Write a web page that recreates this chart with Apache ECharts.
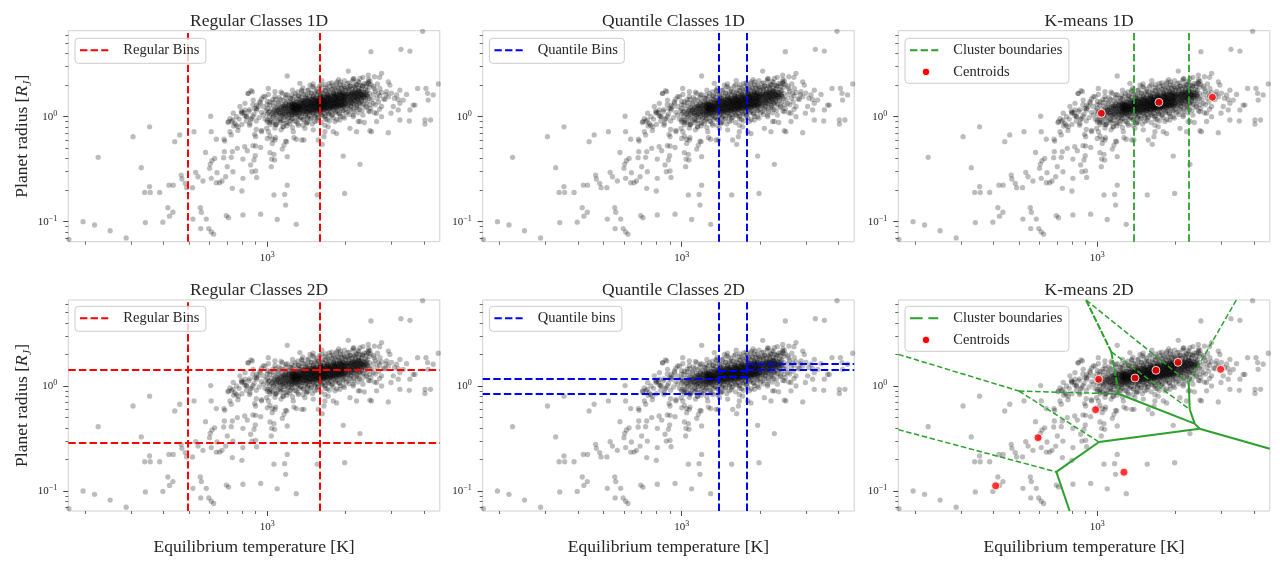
<!DOCTYPE html>
<html><head><meta charset="utf-8">
<script src="https://cdn.jsdelivr.net/npm/echarts@6/dist/echarts.min.js"></script>
<style>html,body{margin:0;padding:0;background:#fff}#c{width:1280px;height:572px}</style>
</head><body><div id="c"></div>
<script>
// ---------------- data ----------------
const xMinT = 172, xMaxT = 4600, yMinR = 0.0645, yMaxR = 6.59;
const majorTicksT = [1000];
const minorTicksT = [200,300,400,500,600,700,800,900,2000,3000,4000];
const majorTicksR = [0.1, 1];
const minorTicksR = [0.07,0.08,0.09,0.2,0.3,0.4,0.5,0.6,0.7,0.8,0.9,2,3,4,5,6];

const panelTitles = ['Regular Classes 1D','Quantile Classes 1D','K-means 1D','Regular Classes 2D','Quantile Classes 2D','K-means 2D'];

// sparse planets [Teq K, radius RJ]
const sparsePlanets = [
[196,0.10],[217,0.093],[224,0.41],[249,0.082],[287,0.070],[173,0.068],[305,0.645],[328,0.327],[338,0.19],[340,0.098],[353,0.80],[353,0.216],[355,0.19],[386,0.19],[397,0.099],[415,0.136],[419,0.223],[421,0.113],[434,0.123],[435,0.223],[441,0.578],[461,0.67],[467,0.278],[470,0.255],[484,0.232],[490,0.211],[516,0.211],[518,0.106],[523,0.72],[531,0.295],[542,0.268],[553,0.136],[558,0.123],[555,0.086],[566,0.244],[579,0.457],[583,0.106],[596,0.086],[600,0.322],[604,0.354],[606,1.01],[609,0.080],[609,0.72],[609,0.259],[613,0.381],[622,0.076],[628,0.40],[637,0.61],[637,0.235],[641,0.293],[656,0.235],[670,0.244],[680,0.407],[682,0.61],[684,0.464],[686,0.586],[692,0.268],[696,0.114],[702,0.334],[710,0.109],[710,0.90],[727,0.41],[727,0.67],[734,0.464],[734,0.208],[738,0.299],[738,0.93],[743,0.815],[760,0.83],[767,0.50],[771,0.74],[795,1.13],[799,0.196],[806,0.395],[806,0.259],[806,0.116],[814,1.09],[819,0.518],[838,0.474],[843,1.66],[855,1.17],[831,1.01],[831,0.91],[863,0.94],[863,0.347],[873,0.299],[876,1.73],[881,1.01],[881,0.53],[894,1.19],[855,0.83],[799,0.845],[907,0.91],[907,0.757],[894,0.68],[899,0.425],[902,0.645],[902,0.526],[943,0.51],[889,0.387],[902,0.304],[910,0.264],[1000,0.62],[1024,0.655],[1045,0.61],[1076,0.63],[1045,0.557],[1024,0.454],[1061,0.438],[1039,0.395],[1036,0.334],[1067,0.387],[1142,0.492],[1159,0.537],[1176,0.586],[1193,0.416],[1266,0.63],[1292,0.61],[1356,0.60],[1383,0.60],[1193,0.223],[1166,0.182],[1061,0.18],[1176,0.144],[943,0.118],[1092,0.105],[1292,0.0944],[1371,0.0636],[1556,0.18],[1626,0.545],[1651,0.645],[1958,0.422],[2270,0.352],[1982,0.186],
[1193,2.44],[2047,2.72],[2501,4.16],[3262,4.38],[3532,4.22],[3952,6.5],[866,1.77],
[2270,2.32],[2444,2.15],[2917,2.15],[2959,2.0],[3232,1.79],[3428,1.63],[3780,1.86],[4070,1.86],[4130,1.67],[4150,1.44],[4338,1.61],[4540,2.05],[3636,1.29],[3690,1.29],[3232,1.34],[3047,1.25],[3185,1.16],[2987,1.08],[2749,1.0],[2513,0.72],[2917,0.705],[2270,0.90],[2630,0.90],[3232,0.93],[3512,0.91],[4034,0.93],[4238,0.93],[4034,0.85],[3185,1.46],[2749,1.25],[2832,1.46],[2670,1.67],[2630,1.08],[1820,0.90],[1665,0.83],[1958,1.0],[2236,0.90],[2359,0.88],[2479,1.12],[2138,1.04],[1901,0.93],[2554,1.34],[2873,1.73],[3330,1.44],[3532,1.16],[3140,1.61],[2709,1.86],[2749,2.59],[2444,2.49],[2479,0.735],
[730,0.90],[706,0.88],[762,1.0],[797,1.08],[833,1.0],[845,1.67],[937,1.39],[924,1.25],[1009,1.86],[1070,1.73],[994,0.774],[951,0.72],[1070,0.60],[1187,0.578],[1259,0.72],[1395,0.774],[1524,0.90],[1665,0.72],[1570,0.60],[774,0.80],[858,0.86],[719,0.72],[740,1.08],[785,1.25],[821,1.34],[883,1.44],[965,1.55],[910,1.16],[965,1.04],[1024,0.93],[1086,0.86],[1152,0.80],[1222,0.86],[1316,0.83],[1416,0.86],[1502,0.75],[1714,0.80],[1793,0.72],[1846,0.69],[2078,0.774],[2203,0.72],
[1334,2.08],[1459,2.0],[1356,1.79],[1240,1.61],[1142,1.67],[980,1.55],[910,1.29],[821,1.16],[719,0.96],[751,0.86]
];

// dense hot-Jupiter core [Teq K, radius RJ]
const corePlanets = [
[1250,1.05],[1250,1.15],[1250,1.23],[1250,1.34],[1265,1.09],[1265,1.19],[1265,1.28],[1265,1.39],[1280,1.04],[1280,1.13],[1280,1.22],[1280,1.31],
[1295,1.09],[1295,1.17],[1295,1.27],[1295,1.38],[1310,1.14],[1310,1.23],[1310,1.32],[1310,1.03],[1325,1.09],[1325,1.17],[1325,1.25],[1325,1.45],
[1340,1.09],[1340,1.19],[1340,1.27],[1340,1.38],[1355,1.13],[1355,1.23],[1355,1.33],[1355,1.44],[1370,1.08],[1370,1.18],[1370,1.26],[1370,1.36],
[1385,1.13],[1385,1.22],[1385,1.32],[1385,1.43],[1400,1.17],[1400,1.26],[1400,1.36],[1400,1.06],[1415,1.13],[1415,1.20],[1415,1.29],[1415,1.49],
[1430,1.12],[1430,1.22],[1430,1.31],[1430,1.42],[1445,1.16],[1445,1.26],[1445,1.36],[1445,1.48],[1460,1.10],[1460,1.20],[1460,1.29],[1460,1.40],
[1475,1.16],[1475,1.25],[1475,1.35],[1475,1.47],[1490,1.20],[1490,1.30],[1490,1.40],[1490,1.09],[1505,1.16],[1505,1.24],[1505,1.33],[1505,1.53],
[1520,1.15],[1520,1.25],[1520,1.34],[1520,1.46],[1535,1.19],[1535,1.30],[1535,1.40],[1535,1.52],[1550,1.13],[1550,1.24],[1550,1.33],[1550,1.43],
[1565,1.19],[1565,1.28],[1565,1.39],[1565,1.50],[1580,1.23],[1580,1.33],[1580,1.43],[1580,1.11],[1595,1.18],[1595,1.26],[1595,1.36],[1595,1.57],
[1610,1.17],[1610,1.28],[1610,1.38],[1610,1.50],[1625,1.22],[1625,1.33],[1625,1.43],[1625,1.55],[1640,1.16],[1640,1.26],[1640,1.36],[1640,1.47],
[1655,1.22],[1655,1.31],[1655,1.42],[1655,1.54],[1670,1.26],[1670,1.36],[1670,1.47],[1670,1.14],[1685,1.21],[1685,1.30],[1685,1.39],[1685,1.61],
[1700,1.21],[1700,1.32],[1700,1.41],[1700,1.53],[1718,1.25],[1718,1.36],[1718,1.47],[1718,1.60],[1736,1.19],[1736,1.30],[1736,1.39],[1736,1.50],
[1754,1.25],[1754,1.35],[1754,1.46],[1754,1.58],[1772,1.30],[1772,1.40],[1772,1.51],[1772,1.18],[1790,1.25],[1790,1.33],[1790,1.43],[1790,1.66],
[1808,1.24],[1808,1.35],[1808,1.45],[1808,1.58],[1826,1.29],[1826,1.40],[1826,1.51],[1826,1.64],[1844,1.22],[1844,1.33],[1844,1.43],[1844,1.55],
[1862,1.29],[1862,1.39],[1862,1.50],[1862,1.63],[1880,1.33],[1880,1.44],[1880,1.55],[1880,1.21],[1900,1.28],[1900,1.37],[1900,1.47],[1900,1.70],
[1920,1.28],[1920,1.39],[1920,1.49],[1920,1.62],[1940,1.32],[1940,1.44],[1940,1.56],[1940,1.69],[1960,1.26],[1960,1.38],[1960,1.48],[1960,1.60],
[1980,1.32],[1980,1.43],[1980,1.54],[1980,1.68],[2000,1.38],[2000,1.48],[2000,1.60],[2000,1.24],
[1258,1.16],[1258,1.24],[1288,1.19],[1288,1.28],[1318,1.17],[1318,1.25],[1348,1.20],[1348,1.29],[1378,1.23],[1378,1.33],[1408,1.20],[1408,1.29],
[1438,1.23],[1438,1.32],[1468,1.27],[1468,1.36],[1498,1.23],[1498,1.32],[1528,1.27],[1528,1.36],[1558,1.30],[1558,1.40],[1588,1.26],[1588,1.35],
[1618,1.30],[1618,1.39],[1648,1.33],[1648,1.43],[1678,1.29],[1678,1.39],[1708,1.33],[1708,1.43],[1745,1.37],[1745,1.47],[1781,1.33],[1781,1.43],
[1817,1.37],[1817,1.47],[1853,1.41],[1853,1.51],[1890,1.37],[1890,1.47],[1930,1.41],[1930,1.51],[1970,1.45],[1970,1.55],
[1000,0.93],[1000,1.06],[1000,1.19],[1020,1.00],[1020,1.12],[1020,1.29],[1040,0.91],[1040,1.05],[1040,1.18],[1060,0.99],[1060,1.12],[1060,1.27],
[1080,0.96],[1080,1.10],[1080,1.23],[1100,1.04],[1100,1.16],[1100,1.33],[1120,0.95],[1120,1.08],[1120,1.22],[1140,1.02],[1140,1.16],[1140,1.31],
[1160,0.99],[1160,1.13],[1160,1.27],[1180,1.07],[1180,1.20],[1180,1.37],[1200,0.97],[1200,1.11],[1200,1.25],[1220,1.05],[1220,1.19],[1220,1.35],
[1240,1.02],[1240,1.17],[1240,1.31],[1010,1.10],[1050,1.08],[1090,1.15],[1130,1.12],[1170,1.19],[1210,1.16],[1245,1.22],
[2030,1.28],[2030,1.46],[2030,1.64],[2060,1.38],[2060,1.55],[2060,1.77],[2090,1.25],[2090,1.43],[2090,1.62],[2120,1.35],[2120,1.54],[2120,1.73],
[2150,1.32],[2150,1.50],[2150,1.68],[2180,1.42],[2180,1.59],[2180,1.82],[2210,1.28],[2210,1.47],[2210,1.65],[2240,1.38],[2240,1.57],[2240,1.77],
[2270,1.35],[2270,1.53],[2270,1.72],[2300,1.44],[2300,1.62],[2300,1.85],[2340,1.32],[2340,1.51],[2340,1.70],[2380,1.42],[2380,1.61],[2380,1.82],
[2420,1.38],[2420,1.57],[2420,1.77],[2470,1.49],[2470,1.67],[2470,1.91],[2045,1.52],[2105,1.48],[2165,1.56],[2225,1.53],[2285,1.60],[2360,1.58],
[1050,1.45],[1110,1.52],[1180,1.60],[1230,1.50],[1280,1.66],[1320,1.58],[1360,1.74],[1400,1.62],[1440,1.80],[1480,1.68],[1510,1.88],[1550,1.72],
[1590,1.95],[1630,1.78],[1670,2.02],[1700,1.85],[1740,1.95],[1770,2.10],[1800,1.88],[1840,2.05],[1870,1.92],[1910,2.15],[1950,2.0],[1990,1.86],
[2030,2.08],[2080,1.95],[2130,2.2],[2190,2.02],[2250,2.12],[2320,1.98],[2400,2.05],[2480,2.18],[2560,1.95],[2650,2.05],[1620,2.2],[1880,2.25],[2150,2.3],[1500,2.05],
[1020,0.88],[1080,0.84],[1130,0.92],[1190,0.87],[1240,0.95],[1290,0.90],[1340,0.98],[1380,0.93],[1430,1.0],[1470,0.95],[1520,1.03],[1560,0.97],
[1610,1.05],[1660,1.0],[1720,1.08],[1770,1.02],[1830,1.12],[1890,1.06],[1950,1.15],[2010,1.09],[2080,1.18],[2150,1.12],[2230,1.22],[2310,1.15],
[2400,1.25],[2500,1.2],[2600,1.3],[1150,0.80],[1420,0.88],[1700,0.94],
[2520,1.45],[2560,1.62],[2600,1.75],[2640,1.5],[2700,1.58],[2750,1.7],[2800,1.48],[2860,1.62],[2920,1.55],[3000,1.68],[3080,1.5],[2680,1.38],[2580,1.85],
[820,1.02],[850,1.12],[870,0.96],[890,1.06],[910,1.2],[930,0.98],[950,1.1],[965,1.25],[980,0.95],[990,1.15],[880,1.3],[940,1.35],[1000,1.4],[780,0.95],[800,1.1]
];

// outer layers of the core (upper flank, lower flank, inner flank, outskirts, wings)
const coreHaloPlanets = [
[1000,1.30],[1025,1.38],[1050,1.36],[1075,1.46],[1100,1.37],[1125,1.46],[1150,1.43],[1175,1.52],[1200,1.40],[1225,1.50],[1250,1.47],[1275,1.57],
[1300,1.48],[1325,1.57],[1350,1.54],[1375,1.64],[1400,1.51],[1425,1.61],[1450,1.57],[1475,1.68],[1500,1.57],[1525,1.68],[1550,1.63],[1575,1.73],
[1600,1.60],[1625,1.70],[1650,1.66],[1675,1.77],[1700,1.66],[1725,1.77],[1750,1.72],[1775,1.83],[1800,1.69],[1825,1.80],[1850,1.75],[1875,1.87],
[1900,1.74],[1925,1.86],[1950,1.81],[1975,1.93],[2000,1.78],[2030,1.89],[2060,1.85],[2090,1.96],[2120,1.84],[2150,1.96],[2180,1.91],[2210,2.02],
[2240,1.87],[2280,1.99],[2320,1.94],[2360,2.07],[2400,1.94],[2450,2.07],[2500,2.02],
[1000,0.89],[1025,0.84],[1050,0.88],[1075,0.84],[1100,0.93],[1125,0.88],[1150,0.92],[1175,0.87],[1200,0.96],[1225,0.91],[1250,0.96],[1275,0.91],
[1300,1.00],[1325,0.95],[1350,0.99],[1375,0.94],[1400,1.03],[1425,0.98],[1450,1.02],[1475,0.97],[1500,1.07],[1525,1.01],[1550,1.05],[1575,0.99],
[1600,1.09],[1625,1.03],[1650,1.08],[1675,1.02],[1700,1.12],[1725,1.06],[1750,1.11],[1775,1.05],[1800,1.16],[1830,1.09],[1860,1.14],[1890,1.08],
[1920,1.19],[1960,1.13],[2000,1.18],[2050,1.12],[2100,1.24],[2150,1.18],[2200,1.23],[2260,1.17],[2320,1.29],[2400,1.23],[2480,1.30],
[1150,1.27],[1150,1.04],[1180,1.32],[1180,1.01],[1210,1.29],[1210,1.06],[1240,1.34],[1240,1.04],[1270,1.33],[1270,1.08],[1300,1.38],[1300,1.06],
[1330,1.35],[1330,1.11],[1360,1.41],[1360,1.08],[1390,1.38],[1390,1.13],[1420,1.43],[1420,1.10],[1450,1.41],[1450,1.15],[1480,1.46],[1480,1.12],
[1510,1.43],[1510,1.17],[1540,1.48],[1540,1.14],[1570,1.45],[1570,1.19],[1600,1.50],[1600,1.16],[1630,1.47],[1630,1.21],[1660,1.53],[1660,1.18],
[1690,1.50],[1690,1.23],[1720,1.56],[1720,1.20],[1750,1.53],[1750,1.25],[1780,1.58],[1780,1.22],[1810,1.55],[1810,1.27],[1840,1.60],[1840,1.24],
[1870,1.57],[1870,1.29],[1900,1.63],[1900,1.25],[1930,1.60],[1930,1.31],[1960,1.66],[1960,1.27],[2000,1.63],[2000,1.33],[2050,1.69],[2050,1.30],
[2100,1.66],[2100,1.36],[2150,1.73],[2150,1.33],[2200,1.69],[2200,1.39],[2250,1.76],[2250,1.35],[2300,1.73],[2300,1.41],
[950,1.48],[950,0.74],[1010,1.63],[1010,0.72],[1070,1.56],[1070,0.78],[1130,1.71],[1130,0.75],[1190,1.63],[1190,0.82],[1250,1.79],[1250,0.79],
[1310,1.72],[1310,0.86],[1370,1.88],[1370,0.83],[1430,1.78],[1430,0.89],[1490,1.94],[1490,0.85],[1550,1.84],[1550,0.92],[1610,2.0],[1610,0.88],
[1670,1.9],[1670,0.95],[1730,2.07],[1730,0.91],[1790,1.97],[1790,0.98],[1850,2.14],[1850,0.94],[1910,2.02],[1910,1.01],[1980,2.2],[1980,0.97],
[2060,2.1],[2060,1.05],[2140,2.29],[2140,1.0],[2230,2.17],[2230,1.09],[2330,2.37],[2330,1.04],[2450,2.26],[2450,1.13],[2580,2.4],[2580,1.09],[2700,2.37],[2700,1.18],
[1055,1.02],[1065,1.15],[1085,1.06],[1095,1.21],[1105,1.09],[1115,1.18],[1125,1.03],[1135,1.24],[1145,1.10],[1155,1.20],[1165,1.07],[1175,1.26],
[1185,1.12],[1195,1.22],[1205,1.09],[1215,1.28],[1225,1.14],[1235,1.25],[1245,1.11],[1255,1.30],[1260,1.20],[1270,1.14],[1285,1.25],[1300,1.16],[1315,1.29],[1330,1.21],
[2010,1.42],[2020,1.56],[2040,1.34],[2055,1.63],[2070,1.47],[2085,1.58],[2100,1.41],[2115,1.66],[2130,1.50],[2145,1.61],[2160,1.44],[2175,1.70],
[2190,1.53],[2205,1.64],[2220,1.47],[2235,1.72],[2255,1.55],[2275,1.66],[2295,1.50],[2315,1.62],[2335,1.56],[2355,1.68],[2375,1.52],[2395,1.72],[2415,1.63],[2440,1.55],
[1400,1.45],[1450,1.10],[1500,1.50],[1550,1.16],[1600,1.56],[1650,1.19],[1700,1.60],[1750,1.22],[1800,1.64],[1850,1.27],[1900,1.68],[1950,1.30]
];

const regularBinsT = [494, 1585];
const regularBinsR = [0.285, 1.44];
const quantileBinsT = [1387, 1777];
// radius quantile edges inside each temperature class (low, mid, high)
const quantileBinsR = [[0.839, 1.166], [1.218, 1.39], [1.42, 1.645]];
const kmeans1DBoundsT = [1379, 2249];
const kmeans1DCentroids = [[1036,1.077],[1725,1.37],[2768,1.53]];
const kmeans2DCentroids = [[1012,1.157],[1396,1.19],[1680,1.41],[2042,1.68],[2978,1.44],[985,0.595],[592,0.322],[1266,0.151],[407,0.112]];
// Voronoi ridges [T1,R1,T2,R2]
const voronoiSolid = [
[2245,1.076,2265,0.60],[2265,0.60,2366,0.438],[1211,0.839,2366,0.438],[2366,0.438,2472,0.392],
[2472,0.392,4600,0.253],[2472,0.392,1015,0.293],[1015,0.293,696,0.152],[696,0.152,783,0.0645]
];
const voronoiDense = [[905,6.59,1132,2.11],[1132,2.11,1211,0.839]];
const voronoiDashed = [
[1132,2.11,2265,0.60],[905,6.59,2245,1.076],[3420,6.59,2245,1.076],
[172,2.0,500,0.896],[500,0.896,1211,0.839],[500,0.896,1015,0.293],[172,0.384,696,0.152]
];

// ---------------- layout / style ----------------
const L = Math.log10;
const FONT = "'Liberation Serif','Times New Roman',serif";
const TXT = '#262626';
const panelLefts = [68.3, 482.7, 898.3], panelTops = [30.7, 300.0], PW = 371.5, PH = 211;

const planetsLog = sparsePlanets.concat(corePlanets, coreHaloPlanets).map(p => [L(p[0]), L(p[1])]);

function powLabel(v) {
  const e = Math.round(v);
  return '{b|10}{s|' + (e < 0 ? '\u2212' + (-e) : String(e)) + '}';
}
const tickRich = {
  b: { fontFamily: FONT, fontSize: 11, color: TXT, lineHeight: 14 },
  s: { fontFamily: FONT, fontSize: 8, color: TXT, lineHeight: 8, verticalAlign: 'top' }
};

const grids = [], xAxes = [], yAxes = [], series = [], titles = [], graphics = [];

for (let i = 0; i < 6; i++) {
  const row = Math.floor(i / 3), col = i % 3;
  const left = panelLefts[col], top = panelTops[row];
  grids.push({ left: left, top: top, width: PW, height: PH, show: true, borderColor: '#d0d0d0', borderWidth: 1, backgroundColor: 'transparent' });
  titles.push({ text: panelTitles[i], left: left + PW / 2, top: row === 0 ? 7 : 276, textAlign: 'center',
    textStyle: { fontFamily: FONT, fontSize: 17.5, fontWeight: 'normal', color: TXT } });
  const xmin = L(xMinT), xmax = L(xMaxT), ymin = L(yMinR), ymax = L(yMaxR);
  xAxes.push({
    gridIndex: i, type: 'value', position: 'bottom', min: xmin, max: xmax,
    splitLine: { show: false }, axisLine: { show: false, onZero: false },
    axisTick: { show: true, inside: false, length: 5, lineStyle: { color: '#444', width: 1 }, customValues: majorTicksT.map(L) },
    axisLabel: { show: true, customValues: majorTicksT.map(L), margin: 9, formatter: powLabel, rich: tickRich, color: TXT },
    name: row === 1 ? 'Equilibrium temperature [K]' : '', nameLocation: 'middle', nameGap: 27,
    nameTextStyle: { fontFamily: FONT, fontSize: 17.5, color: TXT }
  });
  xAxes.push({
    gridIndex: i, type: 'value', position: 'bottom', min: xmin, max: xmax,
    splitLine: { show: false }, axisLine: { show: false, onZero: false }, axisLabel: { show: false },
    axisTick: { show: true, inside: false, length: 3, lineStyle: { color: '#444', width: 0.8 }, customValues: minorTicksT.map(L) }
  });
  yAxes.push({
    gridIndex: i, type: 'value', position: 'left', min: ymin, max: ymax,
    splitLine: { show: false }, axisLine: { show: false, onZero: false },
    axisTick: { show: true, inside: false, length: 5, lineStyle: { color: '#444', width: 1 }, customValues: majorTicksR.map(L) },
    axisLabel: { show: true, customValues: majorTicksR.map(L), margin: 11, formatter: powLabel, rich: tickRich, color: TXT },
    name: col === 0 ? '{n|Planet radius [}{i|R}{j|J}{n|]}' : '', nameLocation: 'middle', nameGap: 27,
    nameTextStyle: { color: TXT, rich: {
      n: { fontFamily: FONT, fontSize: 17.5, color: TXT, lineHeight: 22 },
      i: { fontFamily: FONT, fontSize: 17.5, fontStyle: 'italic', color: TXT, lineHeight: 22 },
      j: { fontFamily: FONT, fontSize: 12, fontStyle: 'italic', color: TXT, lineHeight: 12, verticalAlign: 'bottom' } } }
  });
  yAxes.push({
    gridIndex: i, type: 'value', position: 'left', min: ymin, max: ymax,
    splitLine: { show: false }, axisLine: { show: false, onZero: false }, axisLabel: { show: false },
    axisTick: { show: true, inside: false, length: 3, lineStyle: { color: '#444', width: 0.8 }, customValues: minorTicksR.map(L) }
  });
  const xi = 2 * i, yi = 2 * i;
  series.push({ type: 'scatter', xAxisIndex: xi, yAxisIndex: yi, data: planetsLog, symbolSize: 5.3,
    itemStyle: { color: 'rgba(0,0,0,0.33)', borderWidth: 0 }, silent: true, z: 2 });

  const lineSeries = (segs, color, width, dash, z) => ({
    type: 'lines', coordinateSystem: 'cartesian2d', xAxisIndex: xi, yAxisIndex: yi, polyline: false, silent: true, z: z || 3,
    lineStyle: { color: color, width: width, type: dash, opacity: 1 },
    data: segs.map(s => ({ coords: [[L(s[0]), L(s[1])], [L(s[2]), L(s[3])]] }))
  });
  const vseg = T => [T, yMinR, T, yMaxR];
  const RED = '#ff0000', BLUE = '#0000ff', GREEN = '#2ca02c';
  const D = [7.4, 3.2];
  if (i === 0) series.push(lineSeries(regularBinsT.map(vseg), RED, 2, D));
  if (i === 3) {
    series.push(lineSeries(regularBinsT.map(vseg).concat(regularBinsR.map(r => [xMinT, r, xMaxT, r])), RED, 2, D));
  }
  if (i === 1) series.push(lineSeries(quantileBinsT.map(vseg), BLUE, 2, D));
  if (i === 4) {
    const edges = [xMinT].concat(quantileBinsT, [xMaxT]);
    const segs = quantileBinsT.map(vseg);
    quantileBinsR.forEach((rs, k) => rs.forEach(r => segs.push([edges[k], r, edges[k + 1], r])));
    series.push(lineSeries(segs, BLUE, 2, D));
  }
  if (i === 2) {
    series.push(lineSeries(kmeans1DBoundsT.map(vseg), GREEN, 1.8, D));
    series.push({ type: 'scatter', xAxisIndex: xi, yAxisIndex: yi, data: kmeans1DCentroids.map(p => [L(p[0]), L(p[1])]),
      symbolSize: 8, itemStyle: { color: RED, borderColor: '#fff', borderWidth: 1 }, silent: true, z: 5 });
  }
  if (i === 5) {
    series.push(lineSeries(voronoiDashed, GREEN, 1.5, [5.5, 2.6]));
    series.push(lineSeries(voronoiDense, GREEN, 2, [7, 1.6]));
    series.push(lineSeries(voronoiSolid, GREEN, 2, 'solid'));
    series.push({ type: 'scatter', xAxisIndex: xi, yAxisIndex: yi, data: kmeans2DCentroids.map(p => [L(p[0]), L(p[1])]),
      symbolSize: 8, itemStyle: { color: RED, borderColor: '#fff', borderWidth: 1 }, silent: true, z: 5 });
  }
}

// legends (matplotlib-style boxes)
const legendSpecs = [
  [{ kind: 'line', color: '#ff0000', dash: [7.4, 3.2], label: 'Regular Bins' }],
  [{ kind: 'line', color: '#0000ff', dash: [7.4, 3.2], label: 'Quantile Bins' }],
  [{ kind: 'line', color: '#2ca02c', dash: [7.4, 3.2], label: 'Cluster boundaries' }, { kind: 'dot', label: 'Centroids' }],
  [{ kind: 'line', color: '#ff0000', dash: [7.4, 3.2], label: 'Regular Bins' }],
  [{ kind: 'line', color: '#0000ff', dash: [7.4, 3.2], label: 'Quantile bins' }],
  [{ kind: 'line', color: '#2ca02c', dash: [12.7, 5.7], label: 'Cluster boundaries' }, { kind: 'dot', label: 'Centroids' }]
];
const mctx = document.createElement('canvas').getContext('2d');
mctx.font = "14.5px 'Liberation Serif'";
legendSpecs.forEach((items, i) => {
  const row = Math.floor(i / 3), col = i % 3;
  const bx = panelLefts[col] + 6.7, by = panelTops[row] + (row === 0 ? 7.6 : 6.3);
  let tw = 0;
  items.forEach(it => { tw = Math.max(tw, mctx.measureText(it.label).width); });
  const bw = 48.3 + tw + 6.5, bh = items.length === 1 ? 25 : 45;
  graphics.push({ type: 'rect', shape: { x: bx, y: by, width: bw, height: bh, r: 3.5 },
    style: { fill: 'rgba(255,255,255,0.8)', stroke: '#cccccc', lineWidth: 1 }, z: 100 });
  items.forEach((it, k) => {
    const cy = by + 12 + k * 21.6;
    if (it.kind === 'line') {
      graphics.push({ type: 'line', shape: { x1: bx + 5, y1: cy, x2: bx + 33.3, y2: cy },
        style: { stroke: it.color, lineWidth: 2, lineDash: it.dash }, z: 101 });
    } else {
      graphics.push({ type: 'circle', shape: { cx: bx + 21, cy: cy, r: 3.8 },
        style: { fill: '#ff0000', stroke: '#ffffff', lineWidth: 1 }, z: 101 });
    }
    graphics.push({ type: 'text', x: bx + 48.3, y: cy,
      style: { text: it.label, fontFamily: FONT, fontSize: 14.5, fill: TXT, verticalAlign: 'middle', align: 'left' }, z: 101 });
  });
});

const chart = echarts.init(document.getElementById('c'), null, { renderer: 'canvas' });
chart.setOption({
  animation: false,
  backgroundColor: '#ffffff',
  title: titles, grid: grids, xAxis: xAxes, yAxis: yAxes, series: series, graphic: graphics
});
</script>
</body></html>
